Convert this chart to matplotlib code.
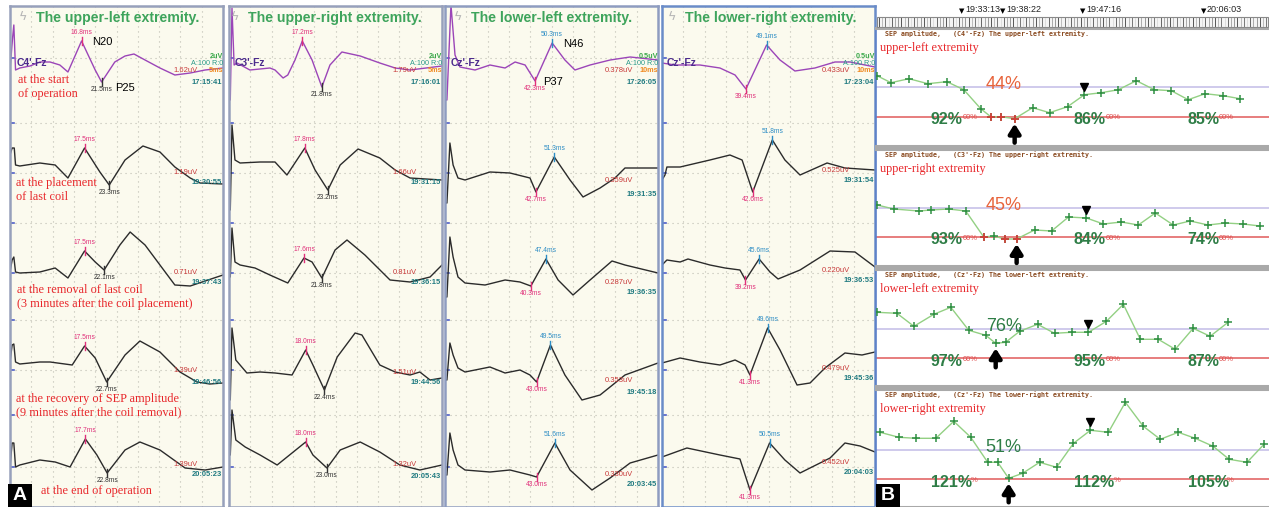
import numpy as np
import matplotlib.pyplot as plt
from matplotlib.patches import Rectangle

plt.rcParams['font.family'] = ['Liberation Sans', 'DejaVu Sans']

# ---------------- panel A: SEP waveforms ----------------
# each trace: latency (ms) and deflection above the row baseline (screen px)
ul_t = [
    [0.0, 0.6, 0.9, 1.3, 2.3, 4.7, 7.0, 9.4, 11.7, 13.6, 16.8, 20.0, 21.5, 24.6, 27.0, 29.1, 31.7, 35.2, 38.7, 42.3, 45.8, 50.0],
    [0.0, 0.5, 1.0, 1.3, 2.3, 7.0, 10.6, 13.6, 17.5, 21.1, 23.3, 27.0, 31.2, 35.2, 38.7, 42.3, 44.6, 50.0],
    [0.0, 0.5, 0.9, 1.3, 2.3, 7.0, 10.6, 13.6, 17.5, 20.0, 22.1, 25.8, 28.2, 31.7, 35.2, 38.7, 42.3, 50.0],
    [0.0, 0.5, 0.9, 1.3, 2.3, 7.0, 9.4, 14.6, 17.5, 20.0, 22.7, 27.0, 30.5, 35.2, 39.9, 43.9, 46.9, 50.0],
    [0.0, 0.5, 0.9, 1.3, 2.3, 7.0, 10.6, 14.1, 17.7, 20.4, 22.8, 27.0, 30.5, 35.2, 41.1, 45.8, 50.0],
]
ul_v = [
    [-2, 30, 43, -2, 0, 2, 6, 6, 3, -4, 27, -2, -14, 6, 12, 14, 8, 0, -7, -5, -2, 0],
    [10, 17, 17, 0, -1, 2, 0, -13, 17, -7, -20, 5, 19, 13, -2, -13, -18, -19],
    [0, 12, 15, 0, -1, 0, 4, -6, 21, 10, 2, 27, 40, 27, 7, -13, -14, -3],
    [0, 17, 18, 0, -2, 0, 0, -3, 16, 4, -20, 7, 21, 10, -10, -20, -22, -21],
    [-1, 23, 23, -1, 1, 6, 4, -1, 27, 11, -7, 16, 24, 16, -2, -4, -1],
]
ur_t = [
    [0.0, 0.3, 0.7, 1.2, 1.9, 4.9, 9.6, 10.8, 12.7, 13.8, 15.5, 17.2, 19.5, 21.8, 23.7, 26.5, 30.8, 35.4, 39.0, 42.5, 50.0],
    [0.0, 0.3, 0.7, 1.4, 2.6, 7.3, 10.8, 13.6, 17.8, 20.2, 23.2, 26.1, 30.3, 35.4, 39.0, 42.5, 50.0],
    [0.0, 0.3, 0.7, 1.4, 2.6, 6.1, 9.6, 13.8, 17.6, 19.5, 21.8, 24.9, 27.7, 31.9, 37.8, 42.5, 47.2, 50.0],
    [0.0, 0.3, 0.7, 1.6, 4.2, 7.3, 10.8, 14.8, 18.0, 19.7, 22.4, 25.4, 29.6, 31.2, 35.4, 39.0, 42.5, 44.8, 47.2, 50.0],
    [0.0, 0.3, 0.7, 1.6, 3.8, 7.3, 11.3, 18.0, 19.7, 23.0, 26.1, 30.8, 35.4, 40.1, 44.8, 50.0],
]
ur_v = [
    [0, -32, 60, 3, 5, -2, 0, -2, -10, -7, 8, 27, 8, -19, 3, 16, 12, 5, 0, -2, 2],
    [0, -47, 38, 3, 0, 1, 1, -12, 15, -7, -27, -2, 14, 5, -7, -15, -17],
    [0, -12, 37, 3, 0, -3, -10, -18, 7, 3, -13, 15, 25, 10, -15, -17, -12, 0],
    [0, -30, 42, 10, -3, -2, -3, -5, 20, 5, -20, 13, 37, 35, 5, -2, -5, -2, -10, -8],
    [0, 0, 45, 15, 8, 0, -10, 13, 0, -13, 5, 13, 3, -10, -15, -10],
]
ll_t = [
    [0.0, 0.9, 2.8, 4.7, 7.0, 14.1, 21.1, 28.2, 32.9, 37.6, 42.3, 50.3, 56.3, 61.0, 68.1, 77.5, 86.9, 91.5, 100],
    [0.0, 0.9, 2.3, 3.8, 6.1, 9.4, 21.1, 30.5, 39.9, 42.7, 51.3, 58.7, 64.8, 72.8, 79.8, 84.5, 100],
    [0.0, 0.9, 2.3, 3.8, 6.1, 9.4, 18.8, 28.2, 35.2, 40.3, 47.4, 53.1, 60.1, 68.1, 78.4, 84.5, 100],
    [0.0, 0.9, 2.3, 3.8, 6.1, 9.4, 21.1, 28.2, 35.2, 39.9, 43.0, 49.5, 56.3, 64.3, 72.8, 84.5, 100],
    [0.0, 0.9, 2.3, 3.8, 6.1, 9.4, 21.1, 30.5, 39.9, 43.0, 51.6, 58.7, 69.0, 77.5, 86.9, 100],
]
ll_v = [
    [-35, -35, 60, 10, -2, -5, 0, -3, 3, 0, -16, 22, 5, -5, 0, 5, 8, 7, 5],
    [-28, -28, 32, 10, -3, -5, 3, 2, -3, -17, 18, -5, -22, -13, -3, 7, 7],
    [-14, -14, 46, 26, 6, 0, -2, 3, 1, -3, 24, 3, -12, 3, 22, 18, 10],
    [-10, -10, 27, 15, 2, -2, 3, -3, 0, -5, -12, 25, -5, -30, -25, -5, 7],
    [-5, -5, 37, 20, 5, 0, -2, 0, -5, -7, 27, 0, -20, -8, 7, 15],
]
lr_t = [
    [0.0, 6.1, 17.8, 27.2, 34.3, 39.4, 49.1, 55.4, 62.4, 71.8, 81.2, 88.3, 100],
    [0.0, 1.4, 2.3, 8.5, 22.5, 31.9, 37.6, 42.6, 51.8, 57.7, 64.8, 77.5, 85.9, 100],
    [0.0, 2.3, 8.5, 12.2, 22.5, 29.6, 36.6, 39.2, 45.6, 50.7, 54.5, 64.8, 78.9, 90.6, 100],
    [0.0, 8.5, 17.8, 27.2, 34.3, 39.0, 41.3, 49.6, 55.4, 63.4, 69.5, 76.5, 85.9, 93.9, 100],
    [0.0, 11.7, 27.2, 36.6, 41.3, 50.5, 57.7, 64.8, 78.9, 85.9, 93.0, 100],
]
lr_v = [
    [2, 0, 0, -3, -10, -24, 20, 5, -6, -3, 3, 3, -2],
    [-12, -7, 1, 1, 8, 13, 8, -24, 28, 8, -7, 5, 0, -2],
    [0, 5, 3, 6, 0, -3, -5, -15, 6, -7, -14, -5, 14, 13, -2],
    [-1, 4, 0, -3, 2, -3, -13, 34, 12, -23, -21, -6, 9, 7, 10],
    [0, 9, 2, -2, -33, 14, -3, -16, -1, 14, 11, 5],
]

# peak latencies (ms)
ul_n20 = [16.8, 17.5, 17.5, 17.5, 17.7]
ul_p25 = [21.5, 23.3, 22.1, 22.7, 22.8]
ur_n20 = [17.2, 17.8, 17.6, 18.0, 18.0]
ur_p25 = [21.8, 23.2, 21.8, 22.4, 23.0]
ll_p37 = [42.3, 42.7, 40.3, 43.0, 43.0]
ll_n46 = [50.3, 51.3, 47.4, 49.5, 51.6]
lr_p37 = [39.4, 42.6, 39.2, 41.3, 41.3]
lr_n46 = [49.1, 51.8, 45.6, 49.6, 50.5]

# amplitudes (uV) and clock times
ul_amp = [1.62, 1.19, 0.71, 1.39, 1.39]
ur_amp = [1.79, 1.66, 0.81, 1.51, 1.32]
ll_amp = [0.378, 0.359, 0.287, 0.353, 0.330]
lr_amp = [0.433, 0.525, 0.220, 0.479, 0.452]
ul_time = ['17:15:41', '19:30:55', '19:37:43', '19:46:56', '20:05:23']
ur_time = ['17:16:01', '19:31:15', '19:36:15', '19:44:56', '20:05:43']
ll_time = ['17:26:05', '19:31:35', '19:36:35', '19:45:18', '20:03:45']
lr_time = ['17:23:04', '19:31:54', '19:36:53', '19:45:36', '20:04:03']

col_titles = ['The upper-left extremity.', 'The upper-right extremity.',
              'The lower-left extremity.', 'The lower-right extremity.']
col_leads = ["C4'-Fz", "C3'-Fz", "Cz'-Fz", "Cz'-Fz"]
col_sens = ['2uV', '2uV', '0.5uV', '0.5uV']
col_div = ['5ms', '5ms', '10ms', '10ms']
sweep = [50, 50, 100, 100]

stages = ['at the start\nof operation', 'at the placement\nof last coil',
          'at the removal of last coil\n(3 minutes after the coil placement)',
          'at the recovery of SEP amplitude\n(9 minutes after the coil removal)',
          'at the end of operation']

# ---------------- panel B: amplitude trends ----------------
b_ul_x = [0, 14, 32, 51, 70, 87, 104, 114, 124, 138, 156, 173, 191, 208, 225, 242, 260, 278, 295, 312, 329, 347, 364]
b_ul_y = [41, 34, 38, 33, 35, 27, 8, 0, 0, -2, 9, 4, 10, 22, 24, 27, 36, 27, 26, 17, 23, 21, 18]
b_ur_x = [0, 17, 42, 54, 72, 89, 107, 117, 128, 140, 158, 175, 192, 210, 227, 245, 262, 279, 297, 314, 332, 349, 367, 384]
b_ur_y = [32, 28, 26, 27, 28, 26, 0, 1, -2, -2, 7, 6, 20, 19, 13, 15, 12, 24, 12, 16, 12, 14, 13, 11]
b_ll_x = [0, 20, 37, 57, 74, 92, 109, 119, 129, 143, 161, 178, 195, 212, 230, 247, 264, 282, 299, 317, 334, 352]
b_ll_y = [46, 45, 32, 44, 51, 28, 23, 15, 16, 27, 34, 25, 26, 26, 37, 54, 19, 19, 9, 30, 22, 36]
b_lr_x = [3, 22, 39, 59, 77, 94, 111, 121, 132, 146, 163, 180, 197, 214, 232, 249, 267, 284, 302, 319, 337, 353, 371, 388]
b_lr_y = [47, 42, 41, 41, 58, 42, 17, 17, 1, 6, 17, 12, 36, 49, 47, 77, 53, 40, 47, 41, 33, 20, 17, 35]
b_red_idx = [[7, 8, 9], [6, 8, 9], [], []]
b_arrow_idx = [9, 9, 7, 8]
b_recover_idx = [13, 13, 13, 13]
b_drop = [44, 45, 76, 51]
b_pct = [[92, 86, 85], [93, 84, 74], [97, 95, 87], [121, 112, 105]]
b_sides = ['upper-left', 'upper-right', 'lower-left', 'lower-right']
strip_times = ['19:33:13', '19:38:22', '19:47:16', '20:06:03']

# ---------------- drawing ----------------
W, H = 1269, 507
fig = plt.figure(figsize=(W / 100, H / 100), dpi=100)
fig.patch.set_facecolor('white')


def px_axes(x0, y0, x1, y1):
    return fig.add_axes([x0 / W, 1 - y1 / H, (x1 - x0) / W, (y1 - y0) / H])


columns = [
    (ul_t, ul_v, ul_n20, ul_p25, ul_amp, ul_time),
    (ur_t, ur_v, ur_n20, ur_p25, ur_amp, ur_time),
    (ll_t, ll_v, ll_n46, ll_p37, ll_amp, ll_time),
    (lr_t, lr_v, lr_n46, lr_p37, lr_amp, lr_time),
]
col_left = [10, 229, 445, 662]
col_w = 213
col_frame = ['#97a0bb', '#97a0bb', '#8e9cc0', '#6a8cc8']
row_base = [[68, 165, 272, 362, 466], [68, 163, 265, 370, 455],
            [65, 175, 283, 370, 470], [65, 168, 265, 362, 457]]
grid_y = [58, 123, 173, 223, 273, 320, 370, 415, 467]
amp_ty = [[71, 172, 273, 370, 465], [71, 173, 273, 372, 465],
          [70, 181, 283, 380, 475], [71, 170, 271, 368, 462]]
clk_ty = [[82, 183, 283, 382, 475], [82, 183, 283, 383, 477],
          [82, 194, 293, 393, 485], [82, 181, 281, 378, 473]]
title_x = [36, 248, 471, 685]
lead_x = [17, 235, 451, 667]

for ci, (tt, vv, up_lat, dn_lat, amps, clocks) in enumerate(columns):
    left = col_left[ci]
    sw = sweep[ci]
    ax = px_axes(left, 6, left + col_w, 507)
    ax.set_xlim(0, sw)
    ax.set_ylim(507, 6)
    ax.set_facecolor('#fbfaee')
    ax.set_xticks([])
    ax.set_yticks([])
    for s in ax.spines.values():
        s.set_color(col_frame[ci])
        s.set_linewidth(1.8)
    for k in range(1, 10):
        ax.axvline(sw * k / 10, color='#bdbdb2', lw=0.8, ls=(0, (1, 3.5)))
    for gy in grid_y:
        ax.axhline(gy, color='#bdbdb2', lw=0.8, ls=(0, (1, 3.5)))
        ax.plot([0, sw * 0.02], [gy, gy], color='#4f5fc8', lw=1.2)

    if ci < 2:
        up_c, dn_c = '#e0307a', '#333333'
    else:
        up_c, dn_c = '#2b8cc4', '#e0307a'

    for r in range(5):
        base = row_base[ci][r]
        y = base - np.array(vv[r], dtype=float)
        ax.plot(tt[r], y, color='#9b45b8' if r == 0 else '#2b2b2b', lw=1.0,
                solid_joinstyle='round')
        yu = np.interp(up_lat[r], tt[r], y)
        ax.plot([up_lat[r]] * 2, [yu - 4, yu + 4], color=up_c, lw=1.0)
        ax.text(up_lat[r], yu - 5, f'{up_lat[r]:.1f}ms', ha='center', va='bottom',
                fontsize=4.8, color=up_c)
        yd = np.interp(dn_lat[r], tt[r], y)
        ax.plot([dn_lat[r]] * 2, [yd - 4, yd + 4], color=dn_c, lw=1.0)
        ax.text(dn_lat[r], yd + 4, f'{dn_lat[r]:.1f}ms', ha='center', va='top',
                fontsize=4.8, color=dn_c)

# ---- panel B trend plots ----
b_data = [(b_ul_x, b_ul_y), (b_ur_x, b_ur_y), (b_ll_x, b_ll_y), (b_lr_x, b_lr_y)]
b_top = [28, 149, 269, 389]
b_bot = [146, 266, 386, 507]
b_redline = [116.7, 237, 358.3, 479.3]
lav_gap = 29.5

for i, (bx, by) in enumerate(b_data):
    ax = px_axes(876, b_top[i], 1269, b_bot[i])
    ax.set_xlim(-1, 393)
    ax.set_ylim(-(b_bot[i] - b_redline[i]), b_redline[i] - b_top[i])
    ax.set_facecolor('white')
    ax.set_xticks([])
    ax.set_yticks([])
    for side in ['top', 'bottom']:
        ax.spines[side].set_color('#a9a9a9')
        ax.spines[side].set_linewidth(2.2)
    ax.spines['left'].set_color('#5c80c8')
    ax.spines['left'].set_linewidth(1.2)
    ax.spines['right'].set_visible(False)

    def yv(py):
        return b_redline[i] - py

    ax.axhline(0, color='#e05a5a', lw=1.1, zorder=1)
    ax.axhline(lav_gap, color='#cbc6ea', lw=1.3, zorder=1)
    ax.plot(bx, by, color='#93d083', lw=1.0, zorder=3)
    ax.plot(bx, by, ls='none', marker='+', ms=6, mew=1.1, color='#2f8f42', zorder=4)
    red = b_red_idx[i]
    if red:
        ax.plot([bx[k] for k in red], [by[k] for k in red], ls='none', marker='+',
                ms=6, mew=1.1, color='#e03535', zorder=5)
    a = b_arrow_idx[i]
    ax.annotate('', xy=(bx[a], by[a] - 5), xytext=(bx[a], by[a] - 24),
                arrowprops=dict(arrowstyle='-|>,head_width=0.35,head_length=0.55',
                                lw=3.2, color='black', shrinkA=0, shrinkB=0), zorder=6)
    rc = b_recover_idx[i]
    ax.plot(bx[rc], by[rc] + 8, marker='v', ms=5.5, color='black', zorder=6)

    ax.text(8, yv(b_top[i] + 5.5),
            f"SEP amplitude,   ({col_leads[i]}) The {b_sides[i]} extremity.",
            family='DejaVu Sans Mono', fontweight='bold', fontsize=4.8,
            color='#8a4a20', va='center', ha='left')
    ax.text(3, yv(b_top[i] + 20), f'{b_sides[i]} extremity', family='Liberation Serif',
            fontsize=8.8, color='#e8262a', va='center', ha='left')

    ax.text(127, 32, f'{b_drop[i]}%', ha='center', va='center', fontsize=13,
            color='#e8643c' if i < 2 else '#2e7d46', zorder=7)
    shift = 5 if i == 3 else 0
    for xc, p in zip([70, 213, 327], b_pct[i]):
        ax.text(xc + shift, -3, f'{p}%', ha='center', va='center', fontsize=11.5,
                fontweight='bold', color='#2e7d46', zorder=7)
        ax.text(xc + shift + (19 if p >= 100 else 16), -1, '%' if p >= 100 else '00%',
                ha='left', va='center', fontsize=5.5, color='#e05050', zorder=6)

# ---- top strip of panel B ----
st = px_axes(876, 0, 1269, 28)
st.set_xlim(876, 1269)
st.set_ylim(28, 0)
st.axis('off')
st.add_patch(Rectangle((877, 17), 391, 10, facecolor='#f4f4f4', edgecolor='#8a8a8a', lw=0.8))
shades = ['#555555', '#bbbbbb', '#777777', '#dddddd', '#666666', '#aaaaaa', '#999999']
for k, xx in enumerate(np.arange(879, 1268, 3.2)):
    st.plot([xx, xx], [18, 26], color=shades[k % len(shades)], lw=0.7)
for xx, s in zip([962, 1003, 1083, 1204], strip_times):
    st.text(xx, 11, '\u25bc', family='DejaVu Sans', fontsize=5, ha='center', va='center')
    st.text(xx + 3, 9, s, fontsize=6.5, ha='left', va='center', color='#222222')

# ---- overlay with screen-positioned labels ----
ov = fig.add_axes([0, 0, 1, 1])
ov.set_xlim(0, W)
ov.set_ylim(H, 0)
ov.axis('off')
ov.patch.set_alpha(0)

for ci in range(4):
    left = col_left[ci]
    ov.text(title_x[ci] - 16, 17, '\u03df', color='#b5b5b5', fontsize=9, va='center')
    ov.text(title_x[ci], 18, col_titles[ci], color='#3ea45c', fontsize=10.2,
            fontweight='bold', va='center', ha='left')
    ov.text(lead_x[ci], 63, col_leads[ci], color='#4b2a8c', fontsize=7.5,
            fontweight='bold', va='center', ha='left')
    right = left + col_w
    ov.text(right, 57, col_sens[ci], color='#3aa84a', fontsize=5.2, fontweight='bold',
            ha='right', va='center')
    ov.text(right, 63.5, 'A:100 R:0', color='#2a9a8a', fontsize=5.2, ha='right', va='center')
    ov.text(right, 70, col_div[ci], color='#f08a20', fontsize=5.2, fontweight='bold',
            ha='right', va='center')
    amps = columns[ci][4]
    clocks = columns[ci][5]
    fmt = '{:.2f}uV' if ci < 2 else '{:.3f}uV'
    for r in range(5):
        ov.text(right - 25, amp_ty[ci][r], fmt.format(amps[r]), color='#c83a3a',
                fontsize=5.5, ha='right', va='center')
        ov.text(right - 1, clk_ty[ci][r], clocks[r], color='#1f7a80', fontsize=5.4,
                fontweight='bold', ha='right', va='center')

for (sx, sy), s in zip([(18, 80), (16, 183), (17, 290), (16, 399), (41, 491)], stages):
    for j, line in enumerate(s.split('\n')):
        ov.text(sx, sy + 13.5 * j, line, family='Liberation Serif', fontsize=8.8,
                color='#e8262a', va='center', ha='left')

ov.text(92, 42, 'N20', fontsize=8, va='center')
ov.text(115, 88, 'P25', fontsize=8, va='center')
ov.text(563, 44, 'N46', fontsize=8, va='center')
ov.text(543, 82, 'P37', fontsize=8, va='center')

for bx0, lab in [(8, 'A'), (876, 'B')]:
    ov.add_patch(Rectangle((bx0, 484), 24, 23, facecolor='black', edgecolor='none'))
    ov.text(bx0 + 12, 496, lab, color='white', fontsize=14, fontweight='bold',
            ha='center', va='center')

fig.savefig('out.png', dpi=100)
